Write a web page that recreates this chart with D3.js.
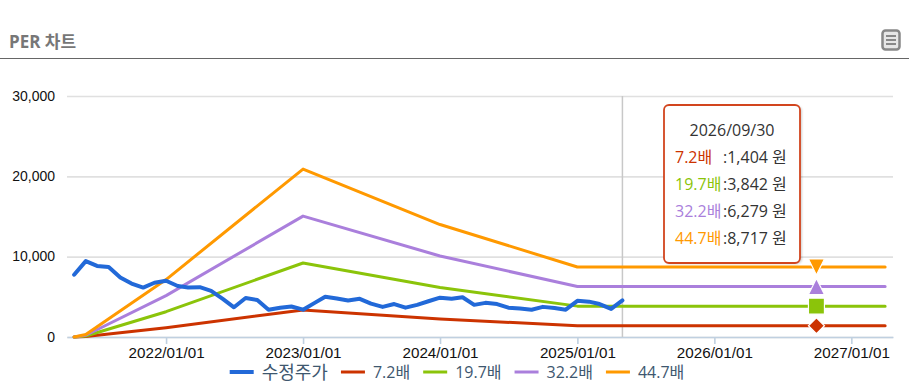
<!DOCTYPE html>
<html lang="ko">
<head>
<meta charset="utf-8">
<title>PER 차트</title>
<script src="https://cdn.jsdelivr.net/npm/d3@7"></script>
<style>
  html, body { margin: 0; padding: 0; background: #fff; }
  svg { display: block; font-family: "Open Sans", "Noto Sans CJK KR", sans-serif; }
  .x.axis text { font-size: 15.2px; fill: #111; }
  .y.axis text { font-size: 14px; fill: #111; }
  .legend-label { font-size: 16px; fill: #3e576f; }
  .tip text { font-size: 16px; fill: #333; }
</style>
</head>
<body>
<div id="chart"></div>
<script>
// values
const priceDates = [
  '2021/05/01','2021/06/01','2021/07/01','2021/08/01','2021/09/01','2021/10/01','2021/11/01','2021/12/01',
  '2022/01/01','2022/02/01','2022/03/01','2022/04/01','2022/05/01','2022/06/01','2022/07/01','2022/08/01','2022/09/01','2022/10/01','2022/11/01','2022/12/01',
  '2023/01/01','2023/02/01','2023/03/01','2023/04/01','2023/05/01','2023/06/01','2023/07/01','2023/08/01','2023/09/01','2023/10/01','2023/11/01','2023/12/01',
  '2024/01/01','2024/02/01','2024/03/01','2024/04/01','2024/05/01','2024/06/01','2024/07/01','2024/08/01','2024/09/01','2024/10/01','2024/11/01','2024/12/01',
  '2025/01/01','2025/02/01','2025/03/01','2025/04/01','2025/05/01'
];
const priceValues = [
  7750, 9450, 8850, 8700, 7400, 6650, 6150, 6750,
  7000, 6350, 6150, 6200, 5750, 4750, 3700, 4850, 4600, 3400, 3650, 3800,
  3400, 4250, 5000, 4800, 4550, 4750, 4150, 3750, 4100, 3650, 4000, 4450,
  4900, 4750, 4950, 4000, 4250, 4100, 3650, 3550, 3400, 3750, 3600, 3400,
  4500, 4400, 4100, 3500, 4550
];

const perDates = ['2021/05/01', '2021/06/01', '2022/01/01', '2023/01/01', '2024/01/01', '2025/01/01', '2026/09/30', '2027/04/01'];
const per72 = [0, 48, 1150, 3370, 2250, 1404, 1404, 1404];
const per197 = [0, 132, 3150, 9210, 6170, 3842, 3842, 3842];
const per322 = [0, 216, 5150, 15050, 10080, 6279, 6279, 6279];
const per447 = [0, 300, 7150, 20900, 14000, 8717, 8717, 8717];

const seriesNames = ['수정주가', '7.2배', '19.7배', '32.2배', '44.7배'];
const seriesColors = ['#2269d8', '#cc3300', '#8bc40a', '#aa7fdc', '#ff9900'];

const xTicks = ['2022/01/01', '2023/01/01', '2024/01/01', '2025/01/01', '2026/01/01', '2027/01/01'];
const yTicks = [0, 10000, 20000, 30000];
const xDomain = ['2021/04/12', '2027/04/22'];
const tipDate = '2026/09/30';

// measures
const width = 921,
    height = 389,
    margins = { top: 96, right: 28, bottom: 52, left: 67 };

const parse = d3.utcParse('%Y/%m/%d');
const fmtDate = d3.utcFormat('%Y/%m/%d');
const fmtNum = d3.format(',');

const xScale = d3.scaleUtc()
  .domain(xDomain.map(parse))
  .range([margins.left, width - margins.right]);

const yScale = d3.scaleLinear()
  .domain([0, 30000])
  .range([height - margins.bottom, margins.top]);

const line = d3.line()
  .x(d => xScale(d.date))
  .y(d => yScale(d.value));

const zip = (dates, values) => dates.map((d, i) => ({ date: parse(d), value: values[i] }));

const perSeries = [per72, per197, per322, per447].map((values, i) => ({
  name: seriesNames[i + 1],
  color: seriesColors[i + 1],
  points: zip(perDates, values)
}));
const priceSeries = { name: seriesNames[0], color: seriesColors[0], points: zip(priceDates, priceValues) };

const $svg = d3.select('#chart').append('svg')
  .attr('width', width)
  .attr('height', height);

// header
$svg.append('text')
  .attr('x', 9)
  .attr('y', 48)
  .style('font-size', '17px')
  .style('font-weight', 700)
  .style('fill', '#777')
  .text('PER 차트');

$svg.append('line')
  .attr('x1', 0)
  .attr('x2', 909)
  .attr('y1', 58.5)
  .attr('y2', 58.5)
  .style('stroke', '#666');

const $icon = $svg.append('g').attr('transform', 'translate(881,29)');
$icon.append('rect')
  .attr('x', 1.5).attr('y', 1.5)
  .attr('width', 17).attr('height', 19)
  .attr('rx', 3)
  .style('fill', '#e6e6e6')
  .style('stroke', '#888')
  .style('stroke-width', 2.5);
$icon.selectAll('.bar')
  .data([6, 10, 14])
  .enter()
  .append('rect')
  .attr('x', 5).attr('y', d => d)
  .attr('width', 10).attr('height', 2)
  .style('fill', '#888');

// axes
const $yAxis = $svg.append('g')
  .classed('y axis', true)
  .attr('transform', `translate(${margins.left},0)`)
  .call(d3.axisLeft(yScale)
    .tickValues(yTicks)
    .tickSize(-(width - margins.left - margins.right))
    .tickPadding(12)
    .tickFormat(fmtNum));
$yAxis.select('.domain').remove();
$yAxis.selectAll('line')
  .style('stroke', '#e0e0e0')
  .style('stroke-width', 1.6);
$yAxis.selectAll('text').attr('dy', '0.3em');

const $xAxis = $svg.append('g')
  .classed('x axis', true)
  .attr('transform', `translate(0,${yScale(0)})`)
  .call(d3.axisBottom(xScale)
    .tickValues(xTicks.map(parse))
    .tickSize(7)
    .tickSizeOuter(0)
    .tickPadding(3)
    .tickFormat(fmtDate));
$xAxis.selectAll('.domain, line')
  .style('stroke', '#c0d0e0')
  .style('stroke-width', 1.6);

// crosshair on the last price date
const lastDate = priceSeries.points[priceSeries.points.length - 1].date;
$svg.append('line')
  .attr('x1', xScale(lastDate))
  .attr('x2', xScale(lastDate))
  .attr('y1', yScale(30000))
  .attr('y2', yScale(0))
  .style('stroke', '#c8c8c8')
  .style('stroke-width', 1.5);

// lines, price goes on top
$svg.selectAll('.per-line')
  .data(perSeries)
  .enter()
  .append('path')
  .classed('per-line', true)
  .attr('d', d => line(d.points))
  .style('fill', 'none')
  .style('stroke', d => d.color)
  .style('stroke-width', 3)
  .style('stroke-linecap', 'round')
  .style('stroke-linejoin', 'round');

$svg.append('path')
  .attr('d', line(priceSeries.points))
  .style('fill', 'none')
  .style('stroke', priceSeries.color)
  .style('stroke-width', 4)
  .style('stroke-linecap', 'round')
  .style('stroke-linejoin', 'round');

// hover markers
const triUp = { draw(c, s) { const r = Math.sqrt(s) / 2; c.moveTo(0, -r); c.lineTo(r, r); c.lineTo(-r, r); c.closePath(); } };
const triDown = { draw(c, s) { const r = Math.sqrt(s) / 2; c.moveTo(0, r); c.lineTo(r, -r); c.lineTo(-r, -r); c.closePath(); } };
const diamond = { draw(c, s) { const r = Math.sqrt(s) / 2; c.moveTo(0, -r); c.lineTo(r, 0); c.lineTo(0, r); c.lineTo(-r, 0); c.closePath(); } };
const square = { draw(c, s) { const r = Math.sqrt(s) / 2; c.rect(-r, -r, 2 * r, 2 * r); } };
const markerTypes = [diamond, square, triUp, triDown];

const tipTime = parse(tipDate);
const tipRows = perSeries.map(s => ({
  name: s.name,
  color: s.color,
  value: s.points.find(p => +p.date === +tipTime).value
}));

$svg.selectAll('.marker')
  .data(tipRows)
  .enter()
  .append('path')
  .classed('marker', true)
  .attr('transform', d => `translate(${xScale(tipTime)},${yScale(d.value)})`)
  .attr('d', (d, i) => d3.symbol().type(markerTypes[i]).size(256)())
  .style('fill', d => d.color)
  .style('stroke', '#fff')
  .style('stroke-width', 1.2);

// tooltip
const $tip = $svg.append('g')
  .classed('tip', true)
  .attr('transform', 'translate(664,105)');

$tip.append('rect')
  .attr('x', 1).attr('y', 1)
  .attr('width', 137).attr('height', 158)
  .attr('rx', 5)
  .style('fill', '#000')
  .style('opacity', 0.18)
  .style('filter', 'blur(1px)');

$tip.append('rect')
  .attr('width', 136).attr('height', 158)
  .attr('rx', 5)
  .style('fill', '#fff')
  .style('stroke', '#d2451e')
  .style('stroke-width', 1.8);

$tip.append('text')
  .attr('x', 68)
  .attr('y', 31)
  .attr('text-anchor', 'middle')
  .text(fmtDate(tipTime));

const $rows = $tip.selectAll('.row')
  .data(tipRows)
  .enter()
  .append('g')
  .classed('row', true)
  .attr('transform', (d, i) => `translate(0,${58 + i * 27})`);

$rows.append('text')
  .attr('x', 11)
  .style('fill', d => d.color)
  .text(d => d.name);

$rows.append('text')
  .attr('x', 59)
  .text(d => `:${fmtNum(d.value)} 원`);

// legend, one row centred under the plot
const $legend = $svg.append('g').attr('transform', 'translate(0,372)');
const legendItems = [priceSeries].concat(perSeries);
const $items = $legend.selectAll('.legend-item')
  .data(legendItems)
  .enter()
  .append('g')
  .classed('legend-item', true);

$items.append('line')
  .attr('x1', 0)
  .attr('x2', 24)
  .style('stroke', d => d.color)
  .style('stroke-width', (d, i) => i === 0 ? 4 : 3);

$items.append('text')
  .classed('legend-label', true)
  .attr('x', 32)
  .attr('dy', '0.4em')
  .style('font-size', (d, i) => i === 0 ? '18px' : null)
  .text(d => d.name);

let legendX = 0;
$items.attr('transform', function () {
  const x = legendX;
  legendX += 32 + d3.select(this).select('text').node().getComputedTextLength() + 13;
  return `translate(${x},0)`;
});
$legend.attr('transform', `translate(${457 - (legendX - 13) / 2},372)`);
</script>
</body>
</html>
